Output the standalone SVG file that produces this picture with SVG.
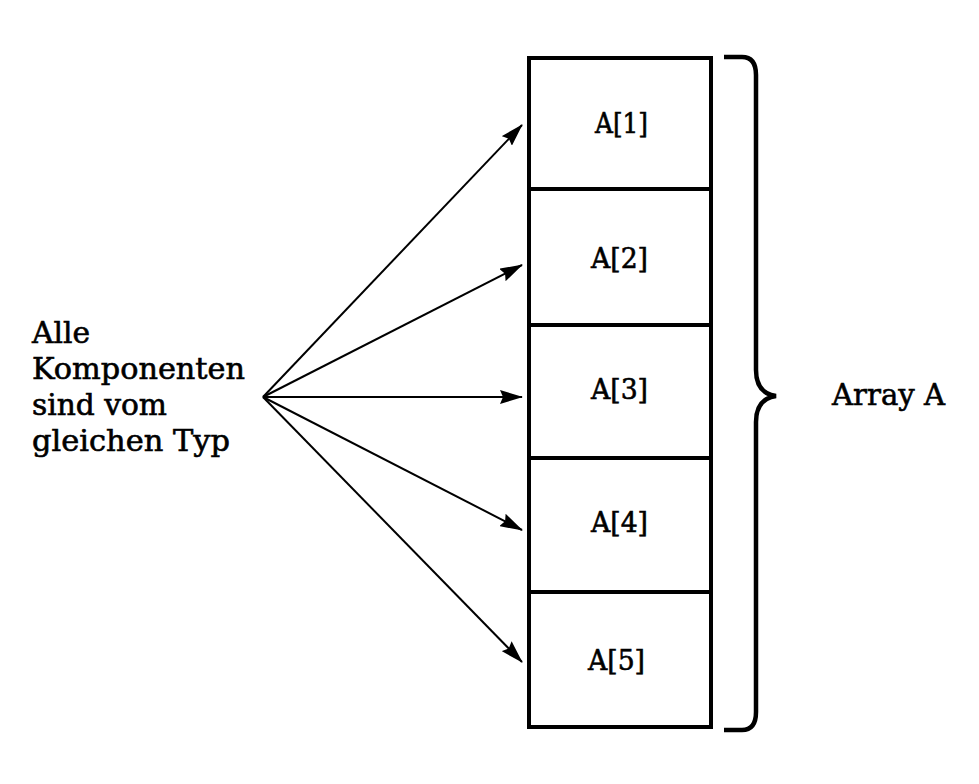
<svg xmlns="http://www.w3.org/2000/svg" width="979" height="784" viewBox="0 0 979 784">
<style>
.t{font-family:"DejaVu Serif","Liberation Serif",serif;fill:#000;stroke:#000;stroke-width:0.6}
.lbl{font-size:27px}
.side{font-size:29px}
.cell{fill:#fff;stroke:#000;stroke-width:4}
.con{stroke:#000;stroke-width:2;fill:none;marker-end:url(#ah)}
</style>
<defs>
<marker id="ah" markerWidth="23" markerHeight="14" refX="22" refY="7" orient="auto" markerUnits="userSpaceOnUse">
<path d="M0,0 L23,7 L0,14 L3,7 Z" fill="#000"/>
</marker>
</defs>
<rect width="979" height="784" fill="#fff"/>
<g id="text-left">
<text class="t side" x="32" y="343" textLength="58" lengthAdjust="spacingAndGlyphs">Alle</text>
<text class="t side" x="32" y="379" textLength="213" lengthAdjust="spacingAndGlyphs">Komponenten</text>
<text class="t side" x="32" y="415" textLength="135" lengthAdjust="spacingAndGlyphs">sind vom</text>
<text class="t side" x="32" y="451" textLength="198" lengthAdjust="spacingAndGlyphs">gleichen Typ</text>
</g>
<g id="connectors">
<line class="con" x1="263" y1="397" x2="522" y2="125"/>
<line class="con" x1="263" y1="397" x2="522" y2="265"/>
<line class="con" x1="263" y1="397" x2="522" y2="397"/>
<line class="con" x1="263" y1="397" x2="522" y2="530"/>
<line class="con" x1="263" y1="397" x2="522" y2="662"/>
</g>
<g id="cell1"><rect class="cell" x="529" y="58" width="182" height="131"/><text class="t lbl" x="595" y="133" textLength="53" lengthAdjust="spacingAndGlyphs">A[1]</text></g>
<g id="cell2"><rect class="cell" x="529" y="189" width="182" height="136"/><text class="t lbl" x="591" y="268" textLength="57" lengthAdjust="spacingAndGlyphs">A[2]</text></g>
<g id="cell3"><rect class="cell" x="529" y="325" width="182" height="133"/><text class="t lbl" x="591" y="399" textLength="57" lengthAdjust="spacingAndGlyphs">A[3]</text></g>
<g id="cell4"><rect class="cell" x="529" y="458" width="182" height="134"/><text class="t lbl" x="591" y="532" textLength="57" lengthAdjust="spacingAndGlyphs">A[4]</text></g>
<g id="cell5"><rect class="cell" x="529" y="592" width="182" height="135"/><text class="t lbl" x="588" y="670" textLength="57" lengthAdjust="spacingAndGlyphs">A[5]</text></g>
<g id="brace">
<path d="M724,57 L742,57 Q756,57 756,75 L756,370 Q756,393 776,396 Q756,399 756,422 L756,712 Q756,730 742,730 L724,730" fill="none" stroke="#000" stroke-width="4.5"/>
</g>
<g id="array-label">
<text class="t side" x="832" y="405" textLength="113" lengthAdjust="spacingAndGlyphs">Array A</text>
</g>
</svg>
